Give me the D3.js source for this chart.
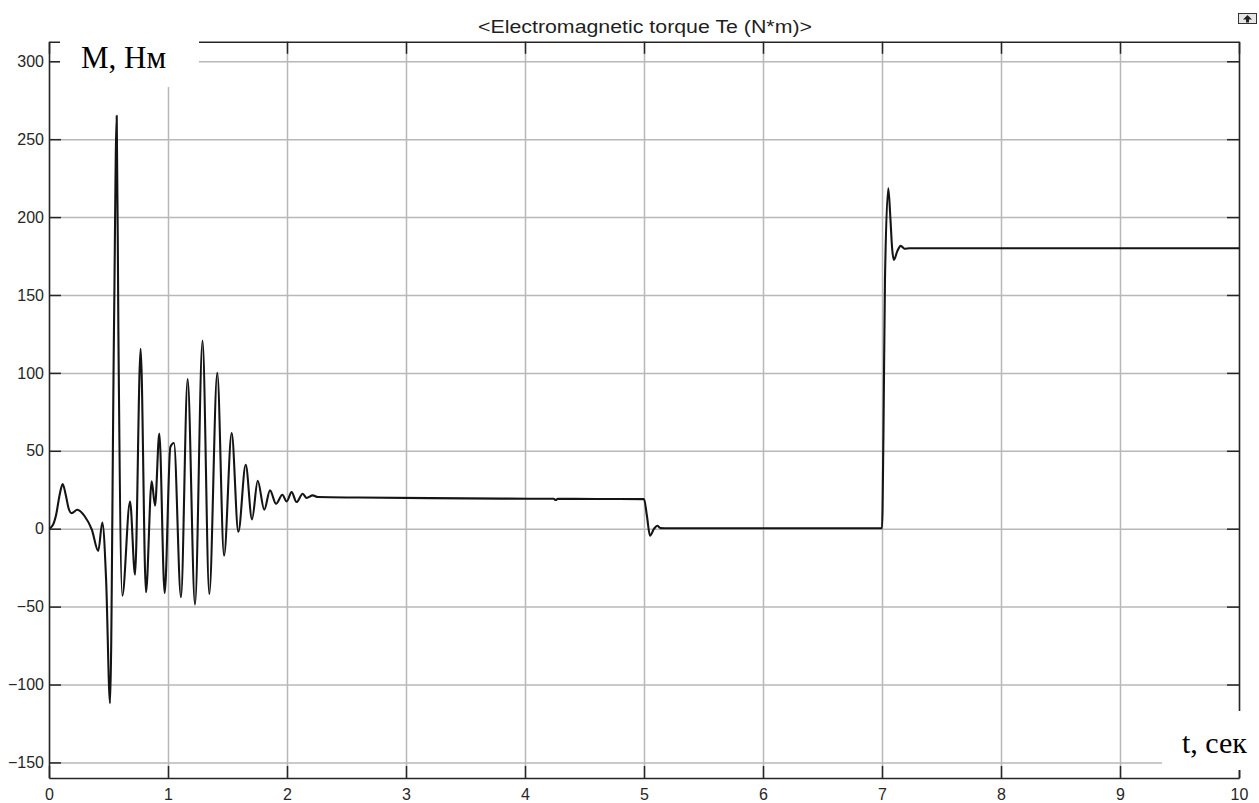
<!DOCTYPE html>
<html>
<head>
<meta charset="utf-8">
<script src="https://cdn.jsdelivr.net/npm/d3@7"></script>
<style>
  html, body { margin: 0; padding: 0; background: #fff; }
  svg { display: block; }
</style>
</head>
<body>
<svg id="chart" width="1259" height="803"></svg>
<script>
// Electromagnetic torque of the motor, Te (N*m), versus time (s)

// Start-up transient, [t, Te]
const startupPoints = [
  [0, 0], [0.03, 2], [0.06, 9], [0.09, 22], [0.115, 28.7], [0.14, 22],
  [0.165, 13], [0.19, 10], [0.238, 12.2], [0.30, 8], [0.36, -0.6],
  [0.414, -14.3], [0.448, 4], [0.48, -33], [0.513, -112], [0.546, 127],
  [0.569, 265], [0.583, 127], [0.616, -43], [0.681, 17.5], [0.723, -29.5],
  [0.77, 115.5], [0.815, -40.8], [0.863, 30.4], [0.891, 14.8], [0.927, 61],
  [0.972, -41.3], [1.02, 52.5], [1.05, 55], [1.109, -44], [1.165, 96],
  [1.227, -48.7], [1.29, 120.7], [1.347, -41.9], [1.414, 100], [1.471, -17.3],
  [1.535, 61.4], [1.591, -2], [1.653, 41], [1.706, 6], [1.754, 30.8],
  [1.809, 12.2], [1.857, 24.6], [1.908, 16], [1.961, 21.8], [1.997, 17.5],
  [2.039, 23.5], [2.08, 17.1], [2.132, 22.4], [2.165, 19.7], [2.216, 21.4],
  [2.26, 20.3]
];

// Running at no-load torque
const steadyPoints = [
  [2.6, 20], [3.2, 19.6], [3.8, 19.3], [4.24, 19.2], [4.258, 18.4],
  [4.275, 19.2], [4.6, 19.1], [5.0, 19]
];

// Load removed at t = 5 s
const unloadPoints = [
  [5.025, 8], [5.05, -4.5], [5.085, 0], [5.111, 1.9], [5.14, 0.4],
  [5.17, 0.3], [6.0, 0.3], [7.0, 0.3]
];

// Load applied at t = 7 s
const loadStepPoints = [
  [7.012, 60], [7.025, 160], [7.053, 218.5], [7.07, 200], [7.085, 180],
  [7.1, 172.5], [7.128, 178], [7.157, 181.5], [7.19, 179.7], [7.23, 180],
  [8.5, 180], [10, 180]
];

const xTicks = [0, 1, 2, 3, 4, 5, 6, 7, 8, 9, 10];
const yTicks = [-150, -100, -50, 0, 50, 100, 150, 200, 250, 300];
const xDomain = [0, 10];
const yDomain = [-160, 312.5];

const titleText = "<Electromagnetic torque Te (N*m)>";
const yLabelText = "М, Нм";
const xLabelText = "t, сек";

const series = startupPoints.concat(steadyPoints, unloadPoints, loadStepPoints);

const svg = d3.select("#chart");
const plotLeft = 49, plotRight = 1239, plotTop = 41.8, plotBottom = 778;
const W = plotRight - plotLeft, H = plotBottom - plotTop;

const x = d3.scaleLinear().domain(xDomain).range([plotLeft, plotRight]);
const y = d3.scaleLinear().domain(yDomain).range([plotBottom, plotTop]);

const axisColor = "#262626";
const gridColor = "#b8b8b8";

// Grid
const gridX = svg.append("g").attr("transform", `translate(0,${plotBottom})`)
  .call(d3.axisBottom(x).tickValues(xTicks).tickSize(-H).tickFormat(""));
gridX.select(".domain").remove();
gridX.selectAll("line").attr("stroke", gridColor).attr("stroke-width", 1.5);

const gridY = svg.append("g").attr("transform", `translate(${plotLeft},0)`)
  .call(d3.axisLeft(y).tickValues(yTicks).tickSize(-W).tickFormat(""));
gridY.select(".domain").remove();
gridY.selectAll("line").attr("stroke", gridColor).attr("stroke-width", 1.5);

// Axes box with inward ticks
function styleAxis(g) {
  g.select(".domain").attr("stroke", axisColor).attr("stroke-width", 1.5);
  g.selectAll(".tick line").attr("stroke", axisColor).attr("stroke-width", 1.5);
  g.selectAll("text")
    .attr("fill", axisColor)
    .style("font-family", "'Liberation Sans', Arial, sans-serif")
    .style("font-size", "16px");
}

svg.append("g").attr("transform", `translate(0,${plotBottom})`)
  .call(d3.axisBottom(x).tickValues(xTicks).tickSize(-12).tickSizeOuter(0).tickPadding(11).tickFormat(d3.format("d")))
  .call(styleAxis);

svg.append("g").attr("transform", `translate(0,${plotTop})`)
  .call(d3.axisTop(x).tickValues(xTicks).tickSize(-12).tickSizeOuter(0).tickFormat(""))
  .call(styleAxis);

svg.append("g").attr("transform", `translate(${plotLeft},0)`)
  .call(d3.axisLeft(y).tickValues(yTicks).tickSize(-12).tickSizeOuter(0).tickPadding(5).tickFormat(d3.format("d")))
  .call(styleAxis);

svg.append("g").attr("transform", `translate(${plotRight},0)`)
  .call(d3.axisRight(y).tickValues(yTicks).tickSize(-12).tickSizeOuter(0).tickFormat(""))
  .call(styleAxis);

// Label backgrounds
svg.append("rect").attr("x", 60).attr("y", 30).attr("width", 139).attr("height", 57).attr("fill", "#fff");
svg.append("rect").attr("x", 1162).attr("y", 711).attr("width", 97).attr("height", 59).attr("fill", "#fff");

// Torque trace
svg.append("defs").append("clipPath").attr("id", "plotClip")
  .append("rect").attr("x", plotLeft).attr("y", plotTop).attr("width", W).attr("height", H);

const line = d3.line()
  .x(d => x(d[0]))
  .y(d => y(d[1]))
  .curve(d3.curveMonotoneX);

svg.append("path")
  .datum(series)
  .attr("clip-path", "url(#plotClip)")
  .attr("fill", "none")
  .attr("stroke", "#141414")
  .attr("stroke-width", 2.1)
  .attr("stroke-linejoin", "round")
  .attr("d", line);

// Title
svg.append("text")
  .attr("x", (478 + 812) / 2).attr("y", 33)
  .attr("text-anchor", "middle")
  .attr("textLength", 334).attr("lengthAdjust", "spacingAndGlyphs")
  .attr("fill", "#1f1f1f")
  .style("font-family", "'Liberation Sans', Arial, sans-serif")
  .style("font-size", "18px")
  .text(titleText);

// Axis captions
svg.append("text")
  .attr("x", 81).attr("y", 68)
  .attr("fill", "#000")
  .style("font-family", "'Liberation Serif', 'Times New Roman', serif")
  .style("font-size", "31px")
  .text(yLabelText);

svg.append("text")
  .attr("x", 1182).attr("y", 753)
  .attr("fill", "#000")
  .style("font-family", "'Liberation Serif', 'Times New Roman', serif")
  .style("font-size", "30px")
  .text(xLabelText);

// Small undock button in the corner
const icon = svg.append("g").attr("transform", "translate(1238,13)");
icon.append("rect").attr("x", 0.5).attr("y", 0.5).attr("width", 18).attr("height", 10)
  .attr("fill", "#e6e6e6").attr("stroke", "#333").attr("stroke-width", 1);
icon.append("path").attr("d", "M9.5,2 L14,6.5 L11,6.5 L11,9.5 L8,9.5 L8,6.5 L5,6.5 Z")
  .attr("fill", "#222");
</script>
</body>
</html>
